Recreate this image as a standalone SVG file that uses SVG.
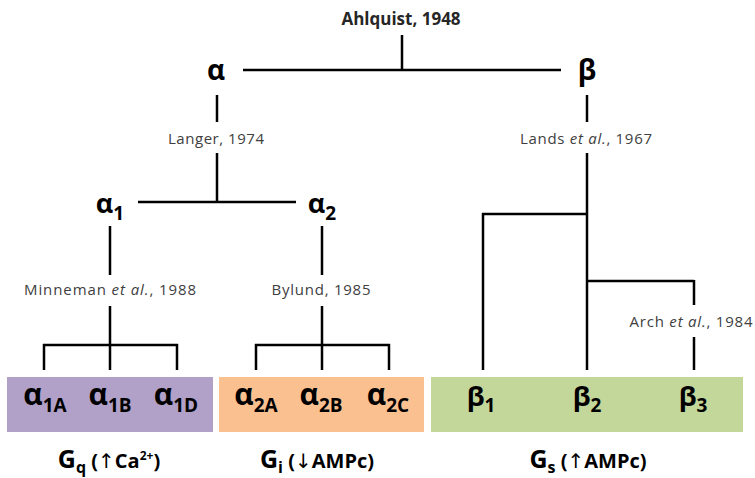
<svg xmlns="http://www.w3.org/2000/svg" width="755" height="478" viewBox="0 0 755 478">
  <style>
    .ln { stroke: #000; stroke-width: 2.5; fill: none; stroke-linecap: butt; }
    .cite { font-family: "Open Sans", "Liberation Sans", sans-serif; font-size: 15px; fill: #404040; text-anchor: middle; }
    .cite-b { font-family: "Open Sans", "Liberation Sans", sans-serif; font-size: 17px; font-weight: bold; fill: #262626; text-anchor: middle; }
    .gk { font-family: "Open Sans", "Liberation Sans", sans-serif; font-weight: bold; fill: #000; text-anchor: middle; }
    .big { font-size: 28px; }
    .mid { font-size: 27px; }
    .box { font-size: 30px; }
    .sub { font-size: 19px; }
    .gp { font-family: "Open Sans", "Liberation Sans", sans-serif; font-weight: bold; fill: #000; text-anchor: middle; font-size: 20px; }
    .arw { font-family: "DejaVu Sans", sans-serif; font-weight: normal; }
  </style>

  <!-- G-protein family bands -->
  <g id="band-gq"><rect x="7" y="377" width="206" height="55" fill="#B1A0C7"/></g>
  <g id="band-gi"><rect x="219" y="377" width="205" height="55" fill="#FAC090"/></g>
  <g id="band-gs"><rect x="431" y="377" width="312" height="55" fill="#C4D79B"/></g>

  <!-- tree connectors -->
  <g id="connectors">
    <path class="ln" d="M402 35 V70 M243 70 H561"/>
    <path class="ln" d="M217 95 V122 M217 153 V202 M138 202 H296"/>
    <path class="ln" d="M587 95 V122 M587 153 V370 M482 214 H587 M483 213 V370 M587 281 H694 M694 280 V305 M694 337 V370"/>
    <path class="ln" d="M110 226 V275 M110 306 V345 M43 345 H178 M44 344 V370 M110 345 V370 M177 344 V370"/>
    <path class="ln" d="M322 226 V275 M322 306 V345 M255 345 H390 M256 344 V370 M322 345 V370 M389 344 V370"/>
  </g>

  <!-- citations -->
  <g id="cite-ahlquist"><text class="cite-b" x="401" y="25">Ahlquist, 1948</text></g>
  <g id="cite-langer"><text class="cite" x="216" y="144" textLength="96">Langer, 1974</text></g>
  <g id="cite-lands"><text class="cite" x="586" y="144" textLength="132">Lands <tspan font-style="italic">et al.</tspan>, 1967</text></g>
  <g id="cite-minneman"><text class="cite" x="110" y="295" textLength="172">Minneman <tspan font-style="italic">et al.</tspan>, 1988</text></g>
  <g id="cite-bylund"><text class="cite" x="321" y="295" textLength="99">Bylund, 1985</text></g>
  <g id="cite-arch"><text class="cite" x="691" y="327" textLength="123">Arch <tspan font-style="italic">et al.</tspan>, 1984</text></g>

  <!-- receptor nodes -->
  <g id="alpha"><text class="gk big" x="216" y="80">α</text></g>
  <g id="beta"><text class="gk big" x="587" y="80">β</text></g>
  <g id="alpha1"><text class="gk mid" x="110" y="213">α<tspan class="sub" dy="7">1</tspan></text></g>
  <g id="alpha2"><text class="gk mid" x="322" y="213">α<tspan class="sub" dy="7">2</tspan></text></g>

  <g id="alpha1A"><text class="gk box" x="45" y="405">α<tspan class="sub" dy="7">1A</tspan></text></g>
  <g id="alpha1B"><text class="gk box" x="110" y="405">α<tspan class="sub" dy="7">1B</tspan></text></g>
  <g id="alpha1D"><text class="gk box" x="176" y="405">α<tspan class="sub" dy="7">1D</tspan></text></g>
  <g id="alpha2A"><text class="gk box" x="256" y="405">α<tspan class="sub" dy="7">2A</tspan></text></g>
  <g id="alpha2B"><text class="gk box" x="321" y="405">α<tspan class="sub" dy="7">2B</tspan></text></g>
  <g id="alpha2C"><text class="gk box" x="388" y="405">α<tspan class="sub" dy="7">2C</tspan></text></g>
  <g id="beta1"><text class="gk mid" x="481" y="406">β<tspan class="sub" dy="6">1</tspan></text></g>
  <g id="beta2"><text class="gk mid" x="587" y="406">β<tspan class="sub" dy="6">2</tspan></text></g>
  <g id="beta3"><text class="gk mid" x="693" y="406">β<tspan class="sub" dy="6">3</tspan></text></g>

  <!-- coupling labels -->
  <g id="label-gq"><text class="gp" x="109" y="468"><tspan font-size="25">G</tspan><tspan font-size="16" dy="5">q</tspan><tspan dy="-5"> (</tspan><tspan class="arw">↑</tspan><tspan>Ca</tspan><tspan font-size="12" dy="-8">2+</tspan><tspan dy="8">)</tspan></text></g>
  <g id="label-gi"><text class="gp" x="317" y="468"><tspan font-size="25">G</tspan><tspan font-size="16" dy="5">i</tspan><tspan dy="-5"> (</tspan><tspan class="arw">↓</tspan><tspan>AMPc)</tspan></text></g>
  <g id="label-gs"><text class="gp" x="588" y="468"><tspan font-size="25">G</tspan><tspan font-size="16" dy="5">s</tspan><tspan dy="-5"> (</tspan><tspan class="arw">↑</tspan><tspan>AMPc)</tspan></text></g>
</svg>
